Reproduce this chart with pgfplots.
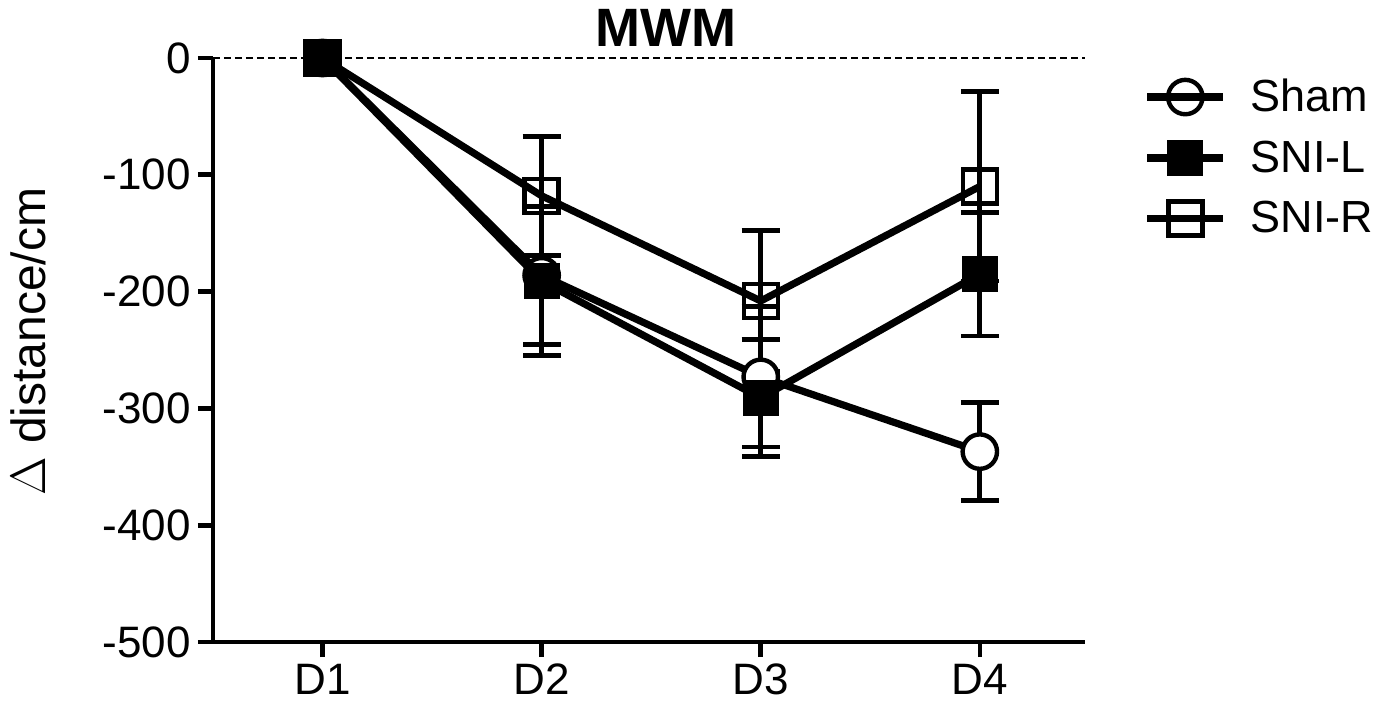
\documentclass[border=0pt]{standalone}
\usepackage{fontspec}
\setmainfont{Liberation Sans}
\usepackage{pgfplots}
\pgfplotsset{compat=1.18}
\begin{document}
\begin{tikzpicture}
\begin{axis}[
  scale only axis, width=436pt, height=292pt,
  xmin=-0.5, xmax=3.48, ymin=-500, ymax=0,
  axis lines*=left, clip=false,
  axis line style={line width=2.3pt, black},
  tick align=outside, major tick length=7.5pt,
  major tick style={line width=2.3pt, black},
  xtick={0,1,2,3}, xticklabels={D1,D2,D3,D4},
  ytick={-500,-400,-300,-200,-100,0},
  yticklabels={-500,-400,-300,-200,-100,0},
  tick label style={font=\fontsize{22}{26}\selectfont},
  ylabel={$\Delta$ distance/cm},
  ylabel style={at={(axis description cs:-0.212,0.514)}, anchor=center, font=\fontsize{24}{28}\selectfont},
  error bars/error bar style={line width=2.4pt, black},
  error bars/error mark options={rotate=90, mark size=9.5pt, line width=2.4pt, black},
  legend image code/.code={\draw[mark repeat=2,mark phase=2,#1] plot coordinates {(0pt,0pt) (19pt,0pt) (38pt,0pt)};},
  legend style={draw=none, fill=none, at={(axis description cs:1.06,0.978)}, anchor=north west,
    font=\fontsize{22.5}{26}\selectfont, row sep=9pt, column sep=10pt},
  legend cell align=left,
]
\addplot[forget plot, black, line width=1pt, dash pattern=on 3.5pt off 2pt] coordinates {(-0.5,0) (3.48,0)};

% SNI-R
\addplot[forget plot, only marks, mark=square, mark size=8.5pt, mark options={line width=2.2pt, fill=white, draw=black},
  error bars/.cd, y dir=both, y explicit] coordinates {
  (0,0) +- (0,0)
  (1,-118) +- (0,51)
  (2,-208) +- (0,60)
  (3,-110) +- (0,81)
};
% Sham
\addplot[forget plot, only marks, mark=*, mark size=8.6pt, mark options={line width=2.2pt, fill=white, draw=black},
  error bars/.cd, y dir=both, y explicit] coordinates {
  (0,0) +- (0,0)
  (1,-186) +- (0,59)
  (2,-273) +- (0,60)
  (3,-337) +- (0,42)
};
% SNI-L
\addplot[forget plot, only marks, mark=square*, mark size=8.8pt, mark options={line width=0.5pt, fill=black, draw=black},
  error bars/.cd, y dir=both, y explicit] coordinates {
  (0,0) +- (0,0)
  (1,-191) +- (0,64)
  (2,-291) +- (0,50)
  (3,-185) +- (0,53)
};
% connecting lines
\addplot[forget plot, black, line width=3.6pt, mark=none] coordinates {(0,0) (1,-118) (2,-208) (3,-110)};
\addplot[forget plot, black, line width=3.6pt, mark=none] coordinates {(0,0) (1,-186) (2,-273) (3,-337)};
\addplot[forget plot, black, line width=3.6pt, mark=none] coordinates {(0,0) (1,-191) (2,-291) (3,-185)};

\addlegendimage{black, line width=3.6pt, mark=o, mark size=8.6pt, mark options={line width=2.2pt, fill=none}}
\addlegendentry{Sham}
\addlegendimage{black, line width=3.6pt, mark=square*, mark size=8.8pt, mark options={line width=0.5pt, fill=black}}
\addlegendentry{SNI-L}
\addlegendimage{black, line width=3.6pt, mark=square, mark size=8.5pt, mark options={line width=2.2pt, fill=none}}
\addlegendentry{SNI-R}

\node[font=\bfseries\fontsize{27}{31}\selectfont, anchor=center, yshift=15pt] at (rel axis cs:0.519,1) {MWM};
\end{axis}
\pgfresetboundingbox
\path (current axis.south west) ++(-106.5pt,-35.5pt) rectangle ++(688.5pt,356.5pt);
\end{tikzpicture}
\end{document}
